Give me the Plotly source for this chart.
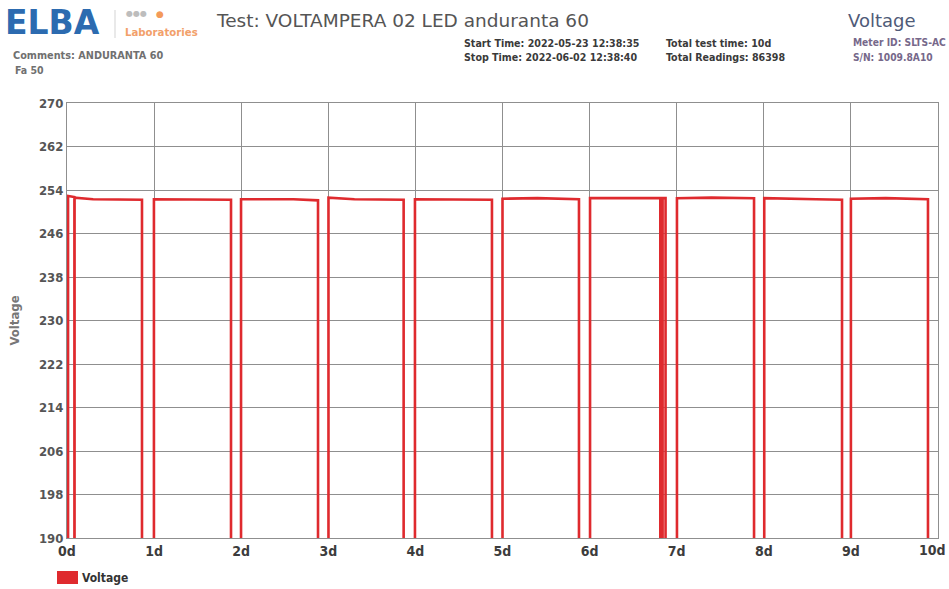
import plotly.graph_objects as go

# Elapsed time since start of test (days) and measured voltage (V)
t_days = [
    0.000, 0.012, 0.012, 0.085, 0.086, 0.087, 0.300, 0.861, 0.861,
    0.998, 0.998, 1.500, 1.883, 1.883,
    1.998, 1.998, 2.600, 2.882, 2.882,
    3.002, 3.002, 3.300, 3.865, 3.865,
    3.995, 3.995, 4.500, 4.879, 4.879,
    5.000, 5.000, 5.400, 5.878, 5.878,
    6.005, 6.005, 6.500, 6.812, 6.812, 6.838, 6.838, 6.872, 6.872,
    7.003, 7.003, 7.400, 7.888, 7.888,
    8.005, 8.005, 8.600, 8.898, 8.898,
    9.000, 9.000, 9.400, 9.885, 9.885, 10.000,
]
voltage = [
    0.0, 0.0, 252.9, 252.7, 0.0, 252.6, 252.3, 252.2, 0.0,
    0.0, 252.3, 252.3, 252.2, 0.0,
    0.0, 252.3, 252.3, 252.1, 0.0,
    0.0, 252.6, 252.3, 252.2, 0.0,
    0.0, 252.3, 252.3, 252.2, 0.0,
    0.0, 252.4, 252.5, 252.3, 0.0,
    0.0, 252.5, 252.5, 252.5, 0.0, 0.0, 252.5, 252.5, 0.0,
    0.0, 252.5, 252.6, 252.5, 0.0,
    0.0, 252.5, 252.3, 252.2, 0.0,
    0.0, 252.4, 252.5, 252.3, 0.0, 0.0,
]

y_ticks = [190, 198, 206, 214, 222, 230, 238, 246, 254, 262, 270]
x_ticks = list(range(0, 11))
x_tick_labels = [f"{d}d" for d in x_ticks]

series_name = "Voltage"
test_title = "Test: VOLTAMPERA 02 LED anduranta 60"
comments = ["Comments: ANDURANTA 60", "Fa 50"]
times_info = ["Start Time: 2022-05-23 12:38:35", "Stop Time: 2022-06-02 12:38:40"]
totals_info = ["Total test time: 10d", "Total Readings: 86398"]
meter_info = ["Meter ID: SLTS-AC", "S/N: 1009.8A10"]

W, H = 949, 589
L, R, T, B = 67, 11, 103, 51
PW, PH = W - L - R, H - T - B

RED = "#df2a2e"
COND = "DejaVu Sans Condensed, DejaVu Sans, sans-serif"
SANS = "DejaVu Sans, sans-serif"
XTICK_FONT = dict(family=COND, size=14, color="#3c3c3c", weight="bold")


def px(x):
    return (x - L) / PW


def py(y):
    return (H - B - y) / PH


fig = go.Figure()
fig.add_trace(go.Scatter(
    x=t_days, y=voltage, mode="lines", name=series_name,
    line=dict(color=RED, width=2.6), showlegend=False,
))

# the last day label sits against the page edge, so it is placed right-aligned
axis_text = x_tick_labels[:-1] + [""]

fig.update_layout(
    width=W, height=H,
    margin=dict(l=L, r=R, t=T, b=B, pad=0),
    paper_bgcolor="white", plot_bgcolor="white",
    xaxis=dict(
        range=[0, 10], tickvals=x_ticks, ticktext=axis_text,
        showgrid=True, gridcolor="#8f8f8f", gridwidth=1,
        showline=True, linecolor="#8f8f8f", linewidth=1, mirror=True,
        ticks="", zeroline=False, automargin=False,
        tickfont=XTICK_FONT,
    ),
    yaxis=dict(
        range=[190, 270], tickvals=y_ticks, automargin=False,
        showgrid=True, gridcolor="#8f8f8f", gridwidth=1,
        showline=True, linecolor="#8f8f8f", linewidth=1, mirror=True,
        ticks="", zeroline=False,
        tickfont=dict(family=COND, size=13, color="#555555", weight="bold"),
        title=dict(text="Voltage", standoff=16,
                   font=dict(family=COND, size=13, color="#777777", weight="bold")),
    ),
)

ann = [dict(
    x=1.0, y=0, xref="paper", yref="paper", text=x_tick_labels[-1],
    showarrow=False, xanchor="right", yanchor="top", xshift=R - 1, yshift=-2,
    font=XTICK_FONT,
)]


def text(x, y, s, size, color, family=COND, weight="bold", anchor="left"):
    ann.append(dict(
        x=px(x), y=py(y), xref="paper", yref="paper", text=s, showarrow=False,
        xanchor=anchor, yanchor="middle",
        font=dict(family=family, size=size, color=color, weight=weight),
    ))


# Header: logo
text(3, 22, "ELBA", 33, "#2c6bb0", family=SANS)
text(124, 14, "●●●", 8, "#bdbdbd", family=SANS, weight="normal")
text(154, 14, "●", 9, "#f39a5a", family=SANS, weight="normal")
text(123, 32, "Laboratories", 11.3, "#f2a06a")

# Header: test information
text(214, 20, test_title, 18.5, "#555555", family=SANS, weight="normal")
text(11, 56, comments[0], 10.8, "#707070")
text(13, 70, comments[1], 10.5, "#707070")
text(462, 43, times_info[0], 10.6, "#3a3a3a")
text(462, 57, times_info[1], 10.6, "#3a3a3a")
text(664, 43, totals_info[0], 10.6, "#3a3a3a")
text(664, 57, totals_info[1], 10.6, "#3a3a3a")
text(846, 21, "Voltage", 18, "#4f5b78", family=SANS, weight="normal")
text(851, 43, meter_info[0], 10.2, "#76688a")
text(851, 57, meter_info[1], 10.2, "#76688a")

# Legend entry
text(80, 578, series_name, 12, "#333333")

fig.update_layout(annotations=ann, shapes=[
    dict(type="line", xref="paper", yref="paper",
         x0=px(115), x1=px(115), y0=py(10), y1=py(38),
         line=dict(color="#e2e2e2", width=1.5)),
    dict(type="rect", xref="paper", yref="paper",
         x0=px(57), x1=px(78), y0=py(571), y1=py(584),
         fillcolor=RED, line=dict(width=0)),
])

fig.write_html("out.html")
